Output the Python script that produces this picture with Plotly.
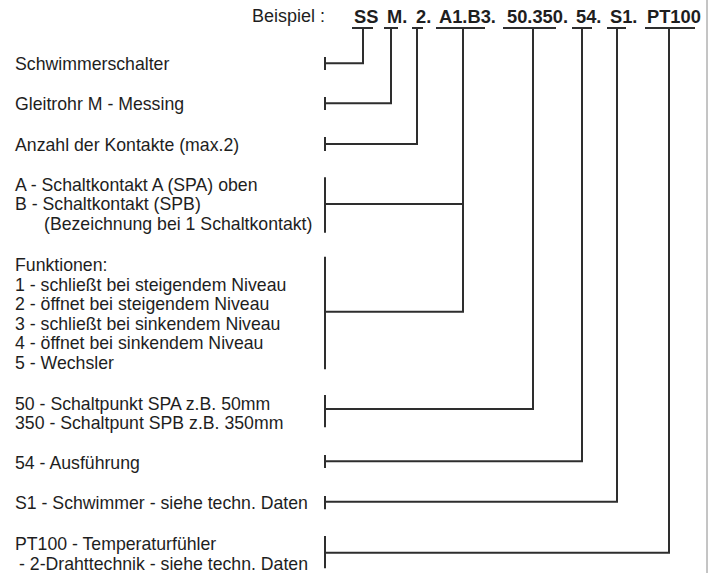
import plotly.graph_objects as go

# ---- data (text content) ----
example_label = "Beispiel :"
codes = ["SS", "M.", "2.", "A1.B3.", "50.350.", "54.", "S1.", "PT100"]
descriptions = [
    ["Schwimmerschalter"],
    ["Gleitrohr M - Messing"],
    ["Anzahl der Kontakte (max.2)"],
    ["A - Schaltkontakt A (SPA) oben", "B - Schaltkontakt (SPB)", "(Bezeichnung bei 1 Schaltkontakt)"],
    ["Funktionen:", "1 - schließt bei steigendem Niveau", "2 - öffnet bei steigendem Niveau",
     "3 - schließt bei sinkendem Niveau", "4 - öffnet bei sinkendem Niveau", "5 - Wechsler"],
    ["50 - Schaltpunkt SPA z.B. 50mm", "350 - Schaltpunt SPB z.B. 350mm"],
    ["54 - Ausführung"],
    ["S1 - Schwimmer - siehe techn. Daten"],
    ["PT100 - Temperaturfühler", "- 2-Drahttechnik - siehe techn. Daten"],
]
group_code = [0, 1, 2, 3, 3, 4, 5, 6, 7]

# ---- layout (pixel geometry) ----
W, H = 716, 573
code_x = [352, 385, 414, 437, 505, 574, 608, 645]
bar_x0 = [352, 384, 412, 436, 503, 572, 607, 645]
bar_x1 = [373, 398, 423, 485, 556, 592, 626, 695]
stem_x = [363, 391, 417, 463, 533, 582, 617, 669]
bar_y = 28
code_y = 16
group_y = [63.3, 103.3, 144, 204, 311.7, 409, 461.3, 501.7, 552.7]
bracket = [(57, 70), (97, 110), (137, 151), (177.3, 232.7), (256.7, 369.3),
           (395, 427.3), (455, 468), (496, 509.3), (536, 568.3)]
text_first_y = [64, 104, 145, 184.5, 265, 403.5, 463.3, 503.3, 544]
line_step = 19.5
indent = {(3, 2): 41.5, (8, 1): 16.5}
text_x = 12.5
left_x = 325
border_x = 707

line_col = "#2e2e2e"
txt_col = "#1e1e1e"
lw = 2
font_fam = "Arial, Liberation Sans, sans-serif"
fs = 17.7

fig = go.Figure()
fig.add_trace(go.Scatter(x=[0, W], y=[0, H], mode="markers", marker=dict(opacity=0), hoverinfo="skip", showlegend=False))

shapes = []
ann = []

def seg(x0, y0, x1, y1, col=line_col, w=lw):
    shapes.append(dict(type="line", xref="x", yref="y", x0=x0, y0=y0, x1=x1, y1=y1,
                       line=dict(color=col, width=w)))

# border
seg(border_x, 0, border_x, H, col="#8a8a8a", w=1)

# example header
ann.append(dict(x=250, y=code_y, xref="x", yref="y", text=example_label, showarrow=False,
                xanchor="left", yanchor="middle", font=dict(family=font_fam, size=18, color=txt_col)))
for i, c in enumerate(codes):
    ann.append(dict(x=code_x[i], y=code_y, xref="x", yref="y", text="<b>%s</b>" % c, showarrow=False,
                    xanchor="left", yanchor="middle", font=dict(family=font_fam, size=18.3, color=txt_col)))
    seg(bar_x0[i], bar_y, bar_x1[i], bar_y)

# stems: vertical down to the lowest group using this code
for ci in range(len(codes)):
    ys = [group_y[g] for g in range(len(group_code)) if group_code[g] == ci]
    shapes.append(dict(type="path", xref="x", yref="y",
                       path="M %s,%s L %s,%s L %s,%s" % (stem_x[ci], bar_y, stem_x[ci], max(ys), left_x, max(ys)),
                       line=dict(color=line_col, width=lw)))
    for y in ys:
        if y != max(ys):
            seg(left_x, y, stem_x[ci], y)

# brackets and texts
for g, lines in enumerate(descriptions):
    seg(left_x, bracket[g][0], left_x, bracket[g][1])
    for k, t in enumerate(lines):
        ann.append(dict(x=indent.get((g, k), text_x), y=text_first_y[g] + k * line_step, xref="x", yref="y",
                        text=t, showarrow=False, xanchor="left", yanchor="middle",
                        font=dict(family=font_fam, size=fs, color=txt_col)))

fig.update_layout(
    width=W, height=H, margin=dict(l=0, r=0, t=0, b=0),
    paper_bgcolor="white", plot_bgcolor="white",
    xaxis=dict(range=[0, W], visible=False, fixedrange=True),
    yaxis=dict(range=[H, 0], visible=False, fixedrange=True),
    shapes=shapes, annotations=ann, showlegend=False,
)
fig.write_html("out.html", config={"displayModeBar": False},
               post_script="document.body.style.margin='0';document.body.style.overflow='hidden';")
